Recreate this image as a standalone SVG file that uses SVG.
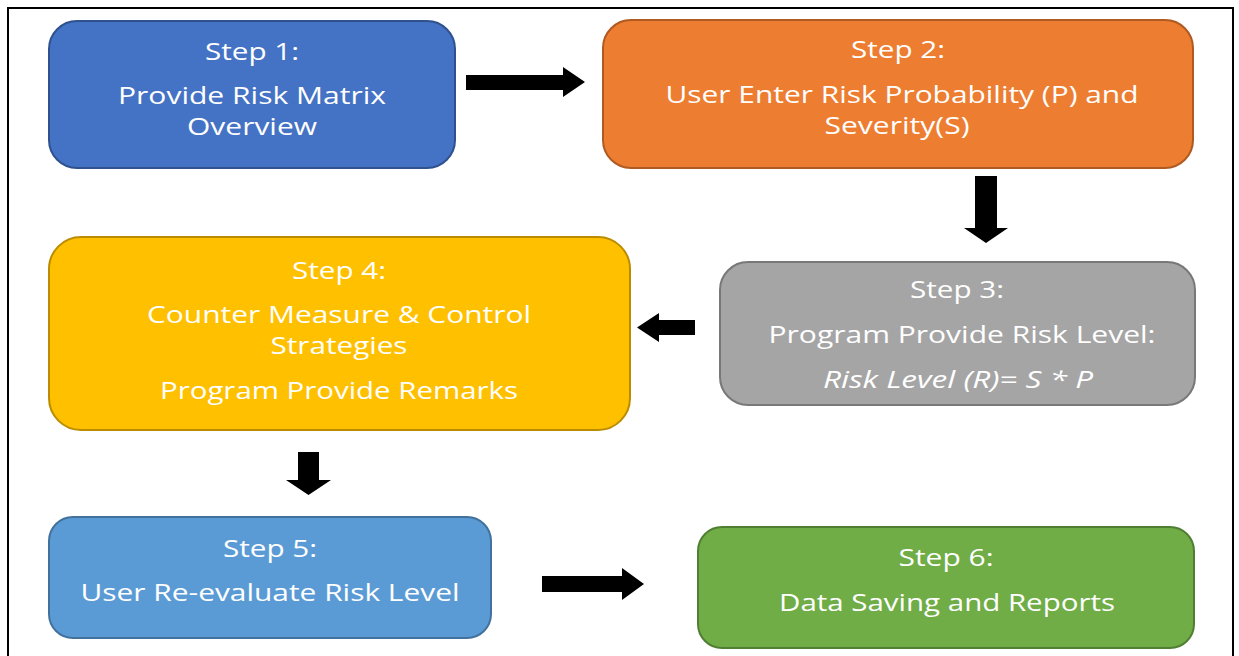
<svg xmlns="http://www.w3.org/2000/svg" width="1239" height="656" viewBox="0 0 1239 656">
  <style>
    .box { stroke-width: 2; }
    .t { font-family: "Open Sans", "Noto Sans", "Liberation Sans", sans-serif; font-size: 23px; fill: #ffffff; text-anchor: middle; }
    .i { font-style: italic; }
    .arrow { fill: #000000; }
  </style>
  <rect x="0" y="0" width="1239" height="656" fill="#ffffff"/>
  <rect x="8" y="8" width="1225" height="660" fill="none" stroke="#000000" stroke-width="2"/>

  <g id="step1">
    <rect class="box" x="49" y="21" width="406" height="147" rx="28" fill="#4472C4" stroke="#2F528F"/>
    <text class="t" x="252" y="60" textLength="94" lengthAdjust="spacingAndGlyphs">Step 1:</text>
    <text class="t" x="252" y="104" textLength="268" lengthAdjust="spacingAndGlyphs">Provide Risk Matrix</text>
    <text class="t" x="252" y="135" textLength="130" lengthAdjust="spacingAndGlyphs">Overview</text>
  </g>

  <g id="step2">
    <rect class="box" x="603" y="20" width="590" height="148" rx="28" fill="#ED7D31" stroke="#AE5A21"/>
    <text class="t" x="898" y="58" textLength="94" lengthAdjust="spacingAndGlyphs">Step 2:</text>
    <text class="t" x="902" y="103" textLength="473" lengthAdjust="spacingAndGlyphs">User Enter Risk Probability (P) and</text>
    <text class="t" x="897" y="134" textLength="145" lengthAdjust="spacingAndGlyphs">Severity(S)</text>
  </g>

  <g id="step3">
    <rect class="box" x="720" y="262" width="475" height="143" rx="28" fill="#A5A5A5" stroke="#787878"/>
    <text class="t" x="957" y="298" textLength="94" lengthAdjust="spacingAndGlyphs">Step 3:</text>
    <text class="t" x="962" y="343" textLength="387" lengthAdjust="spacingAndGlyphs">Program Provide Risk Level:</text>
    <text class="t i" x="958" y="388" textLength="270" lengthAdjust="spacingAndGlyphs">Risk Level (R)= S * P</text>
  </g>

  <g id="step4">
    <rect class="box" x="49" y="237" width="581" height="193" rx="32" fill="#FFC000" stroke="#BC8C00"/>
    <text class="t" x="339" y="279" textLength="94" lengthAdjust="spacingAndGlyphs">Step 4:</text>
    <text class="t" x="339" y="323" textLength="384" lengthAdjust="spacingAndGlyphs">Counter Measure &amp; Control</text>
    <text class="t" x="339" y="354" textLength="137" lengthAdjust="spacingAndGlyphs">Strategies</text>
    <text class="t" x="339" y="399" textLength="358" lengthAdjust="spacingAndGlyphs">Program Provide Remarks</text>
  </g>

  <g id="step5">
    <rect class="box" x="49" y="517" width="442" height="121" rx="24" fill="#5B9BD5" stroke="#41719C"/>
    <text class="t" x="270" y="557" textLength="94" lengthAdjust="spacingAndGlyphs">Step 5:</text>
    <text class="t" x="270" y="601" textLength="379" lengthAdjust="spacingAndGlyphs">User Re-evaluate Risk Level</text>
  </g>

  <g id="step6">
    <rect class="box" x="698" y="527" width="496" height="121" rx="24" fill="#70AD47" stroke="#507E32"/>
    <text class="t" x="946" y="566" textLength="95" lengthAdjust="spacingAndGlyphs">Step 6:</text>
    <text class="t" x="947" y="611" textLength="336" lengthAdjust="spacingAndGlyphs">Data Saving and Reports</text>
  </g>

  <g id="connectors">
    <polygon class="arrow" points="466,75 563,75 563,67 585,82 563,97 563,90 466,90"/>
    <polygon class="arrow" points="975,176 997,176 997,228 1008,228 986,243 964,228 975,228"/>
    <polygon class="arrow" points="695,320 659,320 659,313 637,327.5 659,342 659,335 695,335"/>
    <polygon class="arrow" points="298,452 319,452 319,480 331,480 308.5,495 286,480 298,480"/>
    <polygon class="arrow" points="542,576 622,576 622,568 644,584 622,600 622,592 542,592"/>
  </g>
</svg>
